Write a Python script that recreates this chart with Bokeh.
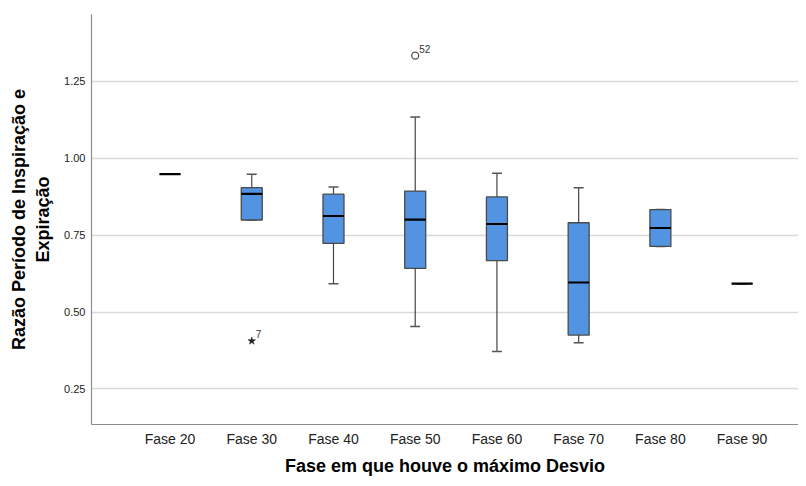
from bokeh.plotting import figure
from bokeh.models import ColumnDataSource, Range1d, FixedTicker
from bokeh.embed import file_html
from bokeh.resources import INLINE
from bokeh.core.properties import value

categories = ["Fase 20", "Fase 30", "Fase 40", "Fase 50", "Fase 60", "Fase 70", "Fase 80", "Fase 90"]
whisker_low = [0.948, 0.799, 0.592, 0.453, 0.372, 0.400, 0.713, 0.592]
q1 = [0.948, 0.799, 0.723, 0.642, 0.667, 0.425, 0.713, 0.592]
median = [0.948, 0.884, 0.812, 0.800, 0.786, 0.596, 0.773, 0.592]
q3 = [0.948, 0.904, 0.883, 0.893, 0.874, 0.790, 0.833, 0.592]
whisker_high = [0.948, 0.948, 0.906, 1.134, 0.951, 0.904, 0.833, 0.592]

outlier_cat = ["Fase 50"]
outlier_val = [1.333]
outlier_lbl = ["52"]
extreme_cat = ["Fase 30"]
extreme_val = [0.406]
extreme_lbl = ["7"]

y_ticks = [0.25, 0.50, 0.75, 1.00, 1.25]

FONT = "Liberation Sans"
BOX_W = 0.257
CAP_W = 0.122

xs = list(range(len(categories)))
src = ColumnDataSource(dict(
    x=xs,
    xl=[x - BOX_W / 2 for x in xs], xr=[x + BOX_W / 2 for x in xs],
    cl=[x - CAP_W / 2 for x in xs], cr=[x + CAP_W / 2 for x in xs],
    wl=whisker_low, q1=q1, med=median, q3=q3, wh=whisker_high,
))

p = figure(width=798, height=478, output_backend="svg", toolbar_location=None,
           x_range=Range1d(-0.961, 7.69), y_range=Range1d(0.1346, 1.4666),
           min_border_left=91, min_border_top=14, min_border_bottom=50, min_border_right=0)
p.outline_line_color = None
p.background_fill_color = "white"
p.border_fill_color = "white"

# grid
p.xgrid.grid_line_color = None
p.ygrid.grid_line_color = "#d9d9d9"
p.ygrid.grid_line_width = 1.5
p.yaxis.ticker = FixedTicker(ticks=y_ticks)
p.xaxis.ticker = FixedTicker(ticks=xs)
p.xaxis.major_label_overrides = {i: c for i, c in enumerate(categories)}
p.yaxis.major_label_overrides = {t: f"{t:.2f}" for t in y_ticks}

for ax in (p.xaxis, p.yaxis):
    ax.axis_line_color = "#8c8c8c"
    ax.axis_line_width = 1.2
    ax.major_tick_line_color = None
    ax.minor_tick_line_color = None
    ax.major_tick_out = 0
    ax.major_tick_in = 0
    ax.minor_tick_out = 0
    ax.minor_tick_in = 0
    ax.major_label_text_font = FONT
    ax.major_label_text_color = "#222222"
    ax.axis_label_text_font = FONT
    ax.axis_label_text_font_style = "bold"
    ax.axis_label_text_font_size = "18px"
    ax.axis_label_text_color = "#000000"

p.xaxis.major_label_text_font_size = "14px"
p.xaxis.major_label_standoff = 6
p.xaxis.axis_label = "Fase em que houve o máximo Desvio"
p.xaxis.axis_label_standoff = 6

p.yaxis.major_label_text_font_size = "11px"
p.yaxis.major_label_standoff = 6
p.yaxis.axis_label = "Razão Período de Inspiração e\nExpiração"
p.yaxis.axis_label_standoff = 8

# whiskers
p.segment(x0="x", x1="x", y0="q3", y1="wh", source=src, line_color="#444444", line_width=1.2)
p.segment(x0="x", x1="x", y0="wl", y1="q1", source=src, line_color="#444444", line_width=1.2)
p.segment(x0="cl", x1="cr", y0="wh", y1="wh", source=src, line_color="#555555", line_width=1.5)
p.segment(x0="cl", x1="cr", y0="wl", y1="wl", source=src, line_color="#555555", line_width=1.5)

# boxes
p.vbar(x="x", width=BOX_W, top="q3", bottom="q1", source=src,
       fill_color="#5294e2", line_color="#4a4a4a", line_width=1.3)
# medians
p.segment(x0="xl", x1="xr", y0="med", y1="med", source=src, line_color="#000000", line_width=2.2)

# outliers
cat_idx = {c: i for i, c in enumerate(categories)}
osrc = ColumnDataSource(dict(x=[cat_idx[c] for c in outlier_cat], y=outlier_val, t=outlier_lbl))
p.scatter(x="x", y="y", source=osrc, marker="circle", size=7, fill_color="white",
          line_color="#555555", line_width=1.3)
p.text(x="x", y="y", text="t", source=osrc, x_offset=4, y_offset=-3, text_font=value(FONT),
       text_font_size="10px", text_color="#333333", text_baseline="bottom", text_align="left")

esrc = ColumnDataSource(dict(x=[cat_idx[c] for c in extreme_cat], y=extreme_val, t=extreme_lbl))
p.scatter(x="x", y="y", source=esrc, marker="star", size=8, fill_color="#222222",
          line_color="#222222", line_width=0.5)
p.text(x="x", y="y", text="t", source=esrc, x_offset=4, y_offset=-3, text_font=value(FONT),
       text_font_size="10px", text_color="#333333", text_baseline="bottom", text_align="left")

open("out.html", "w").write(file_html(p, INLINE))
